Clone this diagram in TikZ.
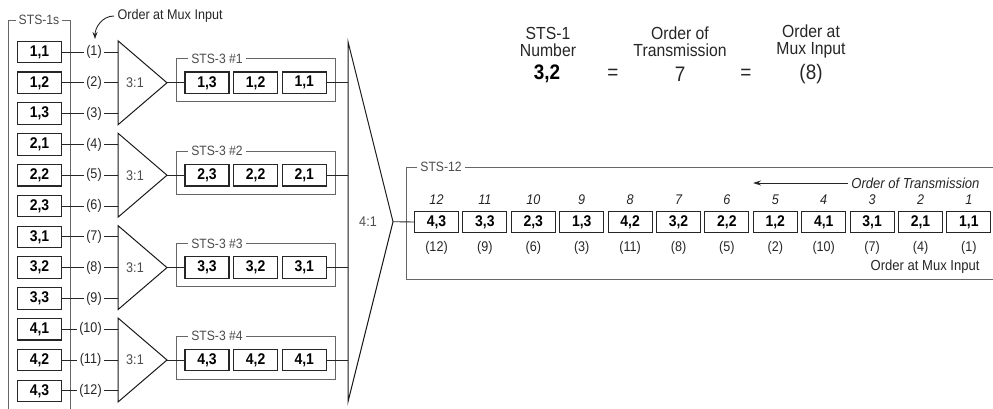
\documentclass[tikz,border=0pt]{standalone}
\usepackage{fontspec}
\setmainfont{Liberation Sans}[FakeStretch=0.9]
\usetikzlibrary{arrows.meta}
\begin{document}
\begin{tikzpicture}[x=1pt,y=-1pt,
  every node/.style={font=\fontsize{14}{16}\selectfont, text=black!85},
  sbox/.style={draw=black!85, line width=1.1pt, minimum width=44pt, minimum height=21.5pt, inner sep=0pt, font=\fontsize{15.5}{17}\selectfont\bfseries, text=black},
  conn/.style={draw=black!85, line width=0.9pt},
  sframe/.style={draw=black!60, line width=0.9pt},
  flabel/.style={fill=white, inner sep=3pt, text=black!70, font=\fontsize{13.5}{15}\selectfont},
  numlab/.style={inner sep=2.5pt},
  mux/.style={draw=black!90, line width=1pt},
  muxlab/.style={text=black!70},
  ttl/.style={align=center, font=\fontsize{17.5}{17}\selectfont},
  big/.style={font=\fontsize{21}{22}\selectfont},
]
\useasboundingbox (0,0) rectangle (993,409);

% STS-1s frame
\draw[sframe] (8,409) -- (8,20) -- (70,20) -- (70,409);
\node[flabel] (sts1s) at (39,20) {STS-1s};

% Order at mux input (top)
\node[anchor=west] (omi) at (114,16) {Order at Mux Input};
\coordinate (tip) at (95,39);
\draw[conn,-{Stealth[length=7pt,width=5pt]}] (omi.west) to[out=180,in=90] (tip);

\foreach \g in {1,...,4} {
  \pgfmathsetmacro{\yc}{52+30.8*(3*(\g-1)+1)}
  \foreach \j in {1,2,3} {
    \pgfmathtruncatemacro{\i}{3*(\g-1)+\j}
    \pgfmathsetmacro{\yy}{52+30.8*(\i-1)}
    \pgfmathsetmacro{\lx}{\i>9 ? 90.5 : 94}
    \node[sbox] (s\g\j) at (39.5,\yy) {\g,\j};
    \node[numlab] (n\i) at (\lx,\yy) {(\i)};
    \coordinate (in\i) at (118,\yy);
    \draw[conn] (s\g\j.east) -- (n\i.west);
    \draw[conn] (n\i.east) -- (in\i);
  }
  % 3:1 mux
  \draw[mux] (118,\yc-42) -- (118,\yc+42) -- (167,\yc) -- cycle;
  \coordinate (m\g) at (167,\yc);
  \node[muxlab] (ml\g) at (135,\yc) {3:1};
  % STS-3 frame
  \draw[sframe] (176,\yc-24) rectangle (335,\yc+19);
  \node[flabel] (f\g) at (217,\yc-24) {STS-3 \#\g};
  \node[sbox] (t\g3) at (207,\yc) {\g,3};
  \node[sbox] (t\g2) at (255.6,\yc) {\g,2};
  \node[sbox] (t\g1) at (304.2,\yc) {\g,1};
  \coordinate (v\g) at (348,\yc);
  \draw[conn] (m\g) -- (t\g3.west);
  \draw[conn] (t\g1.east) -- (v\g);
}

% 4:1 mux
\draw[mux] (348,41.7) -- (348,401.7) -- (393,221.7) -- cycle;
\coordinate (apex) at (393,221.7);
\node[muxlab] (m41) at (368,222) {4:1};

% STS-12 frame
\draw[sframe] (993,167) -- (406,167) -- (406,279) -- (993,279);
\node[flabel] (f12) at (441,167) {STS-12};

\foreach \a/\b/\t/\o [count=\k from 0] in {4/3/12/12, 3/3/11/9, 2/3/10/6, 1/3/9/3, 4/2/8/11, 3/2/7/8, 2/2/6/5, 1/2/5/2, 4/1/4/10, 3/1/3/7, 2/1/2/4, 1/1/1/1} {
  \pgfmathsetmacro{\bx}{436.5+48.4*\k}
  \node[sbox] (b\k) at (\bx,222) {\a,\b};
  \node[font=\fontsize{14}{16}\selectfont\itshape] (tn\k) at (\bx,200) {\t};
  \node (on\k) at (\bx,247.5) {(\o)};
}
\draw[conn] (apex) -- (b0.west);

\node[anchor=east, font=\fontsize{14.5}{16}\selectfont\itshape] (oot) at (983,183) {Order of Transmission};
\coordinate (arrend) at (753,183);
\draw[conn,-{Stealth[length=8pt,width=5pt]}] (oot.west) -- (arrend);
\node[anchor=east, font=\fontsize{14.5}{16}\selectfont] (omi2) at (983,266.5) {Order at Mux Input};

% Top-right formula
\node[ttl] (h1) at (548,41.5) {STS-1\\Number};
\node[ttl] (h2) at (680,41.5) {Order of\\Transmission};
\node[ttl] (h3) at (811,41.5) {Order at\\Mux Input};
\node[big, font=\fontsize{21}{22}\selectfont\bfseries, text=black] (v1) at (547,74) {3,2};
\node[big] (e1) at (613,74) {=};
\node[big] (v2) at (680,74) {7};
\node[big] (e2) at (746,74) {=};
\node[big] (v3) at (811,74) {(8)};
\end{tikzpicture}
\end{document}
